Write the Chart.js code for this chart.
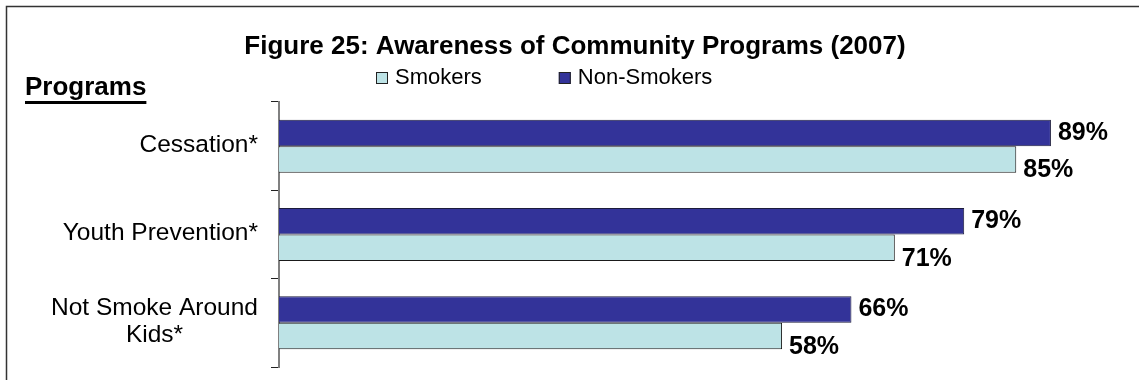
<!DOCTYPE html>
<html>
<head>
<meta charset="utf-8">
<script src="https://cdn.jsdelivr.net/npm/chart.js@4/dist/chart.umd.min.js"></script>
<style>
  html, body { margin: 0; padding: 0; background: #fff; overflow: hidden; }
  #wrap { width: 1139px; height: 380px; position: relative; }
</style>
</head>
<body>
<div id="wrap"><canvas id="chart" width="1139" height="380"></canvas></div>
<script>
// Program categories (multi-line labels are arrays)
const categories = [['Cessation*'], ['Youth Prevention*'], ['Not Smoke Around', 'Kids*']];
// Awareness, percent
const smokers = [85, 71, 58];
const nonSmokers = [89, 79, 66];
const seriesNames = ['Smokers', 'Non-Smokers'];
const titleText = 'Figure 25: Awareness of Community Programs (2007)';
const axisHeading = 'Programs';

const FONT = '"Liberation Sans", Arial, Helvetica, sans-serif';
const COLOR_SMOKERS = '#bde3e6';
const COLOR_NON = '#333399';

// Draws frame, title, legend, heading, category labels and value labels
const decor = {
  id: 'decor',
  beforeDraw(chart) {
    const ctx = chart.ctx;
    ctx.save();
    ctx.fillStyle = '#fff';
    ctx.fillRect(0, 0, chart.width, chart.height);
    ctx.strokeStyle = '#333';
    ctx.lineWidth = 1.5;
    ctx.strokeRect(6.5, 6.5, chart.width + 50, chart.height + 50);
    ctx.restore();
  },
  afterDraw(chart) {
    const ctx = chart.ctx;
    const yScale = chart.scales.y;
    ctx.save();
    ctx.fillStyle = '#000';
    ctx.textBaseline = 'middle';

    // Title
    ctx.font = 'bold 26px ' + FONT;
    ctx.textAlign = 'center';
    ctx.fillText(titleText, 575, 47);

    // Legend: Smokers first, then Non-Smokers
    ctx.font = '22px ' + FONT;
    ctx.textAlign = 'left';
    const legendItems = [
      { text: seriesNames[0], color: COLOR_SMOKERS },
      { text: seriesNames[1], color: COLOR_NON }
    ];
    let lx = 376;
    const ly = 78;
    legendItems.forEach(item => {
      ctx.fillStyle = item.color;
      ctx.fillRect(lx, ly - 6, 12, 12);
      ctx.strokeStyle = '#222';
      ctx.lineWidth = 1;
      ctx.strokeRect(lx + 0.5, ly - 5.5, 11, 11);
      ctx.fillStyle = '#000';
      ctx.fillText(item.text, lx + 19, ly);
      lx += 19 + ctx.measureText(item.text).width + 77;
    });

    // Axis heading, underlined
    ctx.font = 'bold 26px ' + FONT;
    ctx.textAlign = 'left';
    ctx.fillText(axisHeading, 25, 88);
    const hw = ctx.measureText(axisHeading).width;
    ctx.fillRect(25, 101, hw, 3);

    // Category labels: block right-aligned, lines centred within block
    ctx.font = '24.5px ' + FONT;
    ctx.textAlign = 'center';
    const lineH = 27;
    chart.data.labels.forEach((lines, i) => {
      const yc = yScale.getPixelForTick(i) - 1;
      const w = Math.max(...lines.map(l => ctx.measureText(l).width));
      const xc = 258 - w / 2;
      const y0 = yc - (lines.length - 1) * lineH / 2;
      lines.forEach((l, k) => ctx.fillText(l, xc, y0 + k * lineH));
    });

    // Value labels at bar ends
    ctx.font = 'bold 25px ' + FONT;
    ctx.textAlign = 'left';
    chart.data.datasets.forEach((ds, di) => {
      const meta = chart.getDatasetMeta(di);
      const dy = ds.label === seriesNames[0] ? 11 : 0;
      meta.data.forEach((bar, i) => {
        ctx.fillText(ds.data[i] + '%', bar.x + 7, bar.y + dy);
      });
    });
    ctx.restore();
  }
};

new Chart(document.getElementById('chart'), {
  type: 'bar',
  data: {
    labels: categories,
    datasets: [
      { label: seriesNames[1], data: nonSmokers, backgroundColor: COLOR_NON, borderColor: '#1c1c3c', borderWidth: 1 },
      { label: seriesNames[0], data: smokers, backgroundColor: COLOR_SMOKERS, borderColor: '#1a1a1a', borderWidth: 1 }
    ]
  },
  options: {
    indexAxis: 'y',
    responsive: false,
    animation: false,
    devicePixelRatio: 1,
    layout: { padding: { top: 102, bottom: 13, left: 0, right: 10 } },
    datasets: { bar: { categoryPercentage: 0.6, barPercentage: 1 } },
    plugins: {
      legend: { display: false },
      title: { display: false },
      tooltip: { enabled: false }
    },
    scales: {
      x: { display: false, min: 0, max: 98 },
      y: {
        grid: { display: true, drawOnChartArea: false, offset: true, drawTicks: true, tickLength: 8, color: '#222', lineWidth: 1 },
        border: { display: true, color: '#808080', width: 2 },
        ticks: { display: false },
        afterFit(scale) { scale.width = 279; }
      }
    }
  },
  plugins: [decor]
});
</script>
</body>
</html>
